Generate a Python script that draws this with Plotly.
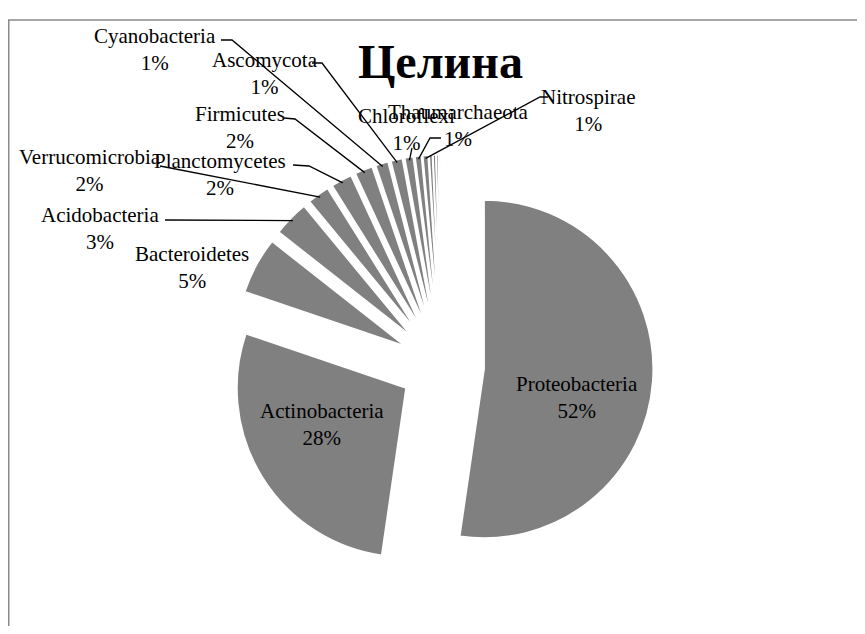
import math
import plotly.graph_objects as go

# ---------------- data ----------------
categories = ["Proteobacteria", "Actinobacteria", "Bacteroidetes", "Acidobacteria",
              "Verrucomicrobia", "Planctomycetes", "Firmicutes", "Cyanobacteria",
              "Ascomycota", "Chloroflexi", "Thaumarchaeota", "Nitrospirae",
              "minor_1", "minor_2", "minor_3", "minor_4", "minor_5"]
values = [52.3, 27.9, 5.4, 3.4,
          2.1, 2.0, 1.7, 1.2,
          1.1, 0.8, 0.6, 0.5,
          0.3, 0.25, 0.2, 0.15, 0.1]
percent_labels = ["52%", "28%", "5%", "3%",
                  "2%", "2%", "2%", "1%",
                  "1%", "1%", "1%", "1%",
                  "", "", "", "", ""]
title_text = "Целина"

# ---------------- layout / style ----------------
PAGE_OFF = 8                    # default body margin of the html page
W, H = 849, 618                 # figure size (fits the window without scrolling)
CX, CY, R = 442, 366, 169       # pie centre and radius in page px
PULL = 0.25
FONT = "Liberation Serif, Times New Roman, serif"
FS = 21
GRAY = "#808080"


def px_to_paper(x, y):
    """page pixel -> paper coordinates"""
    return (x - PAGE_OFF) / W, 1 - (y - PAGE_OFF) / H


box = 2 * R * (1 + PULL)
fcx, fcy = CX - PAGE_OFF, CY - PAGE_OFF
dom_x = [(fcx - box / 2) / W, (fcx + box / 2) / W]
dom_y = [(H - fcy - box / 2) / H, (H - fcy + box / 2) / H]

# text block centres (page px) and leader-line start / elbow points (page px)
label_layout = {
    "Proteobacteria":  ((577, 397), None),
    "Actinobacteria":  ((322, 424), None),
    "Cyanobacteria":   ((155, 50),  [(221, 40), (232, 40)]),
    "Ascomycota":      ((265, 74),  [(312, 63), (322, 63)]),
    "Firmicutes":      ((240, 127), [(284, 118), (295, 119)]),
    "Verrucomicrobia": ((90, 170),  [(160, 166)]),
    "Planctomycetes":  ((220, 175), [(293, 165), (309, 166)]),
    "Acidobacteria":   ((100, 228), [(165, 220)]),
    "Bacteroidetes":   ((192, 267), None),
    "Chloroflexi":     ((406, 129), [(412, 148)]),
    "Thaumarchaeota":  ((458, 125), [(441, 138), (430, 138)]),
    "Nitrospirae":     ((588, 110), [(548, 97), (540, 97)]),
}

fig = go.Figure()
fig.add_trace(go.Pie(
    labels=categories,
    values=values,
    textinfo="none",
    sort=False,
    direction="clockwise",
    rotation=0,
    pull=[PULL] * len(values),
    marker=dict(colors=[GRAY] * len(values), line=dict(color="white", width=1.5)),
    domain=dict(x=dom_x, y=dom_y),
    showlegend=False,
    hoverinfo="label+value",
))

# slice mid angles (clockwise from 12 o'clock), derived from the data
total = sum(values)
mid_angle = {}
cum = 0.0
for c, v in zip(categories, values):
    mid_angle[c] = (cum + v / 2) / total * 2 * math.pi
    cum += v

annotations = []
shapes = []
for name, (pos, leader) in label_layout.items():
    pct = percent_labels[categories.index(name)]
    ax, ay = px_to_paper(*pos)
    annotations.append(dict(
        x=ax, y=ay, xref="paper", yref="paper", showarrow=False,
        text=f"{name}<br>{pct}", align="center",
        font=dict(family=FONT, size=FS, color="black"),
        xanchor="center", yanchor="middle",
    ))
    if leader:
        a = mid_angle[name]
        rr = R * (1 + PULL) - 3
        ex, ey = CX + rr * math.sin(a), CY - rr * math.cos(a)
        pts = [px_to_paper(x, y) for x, y in leader + [(ex, ey)]]
        path = "M " + " L ".join(f"{x:.5f},{y:.5f}" for x, y in pts)
        shapes.append(dict(type="path", xref="paper", yref="paper", path=path,
                           line=dict(color="black", width=1.3)))

# title
tx, ty = px_to_paper(441, 62)
annotations.append(dict(
    x=tx, y=ty, xref="paper", yref="paper", showarrow=False,
    text=f"<b>{title_text}</b>", font=dict(family=FONT, size=48, color="black"),
    xanchor="center", yanchor="middle",
))

# chart-area border
bx0, by0 = px_to_paper(8.75, 20)
bx1, by1 = px_to_paper(900, 700)
shapes.append(dict(type="rect", xref="paper", yref="paper",
                   x0=bx0, y0=by1, x1=bx1, y1=by0,
                   line=dict(color="#8a8a8a", width=1.5), fillcolor="rgba(0,0,0,0)"))

fig.update_layout(
    width=W, height=H,
    margin=dict(l=0, r=0, t=0, b=0),
    paper_bgcolor="white", plot_bgcolor="white",
    annotations=annotations, shapes=shapes,
    font=dict(family=FONT, size=FS, color="black"),
)

fig.write_html("out.html")
